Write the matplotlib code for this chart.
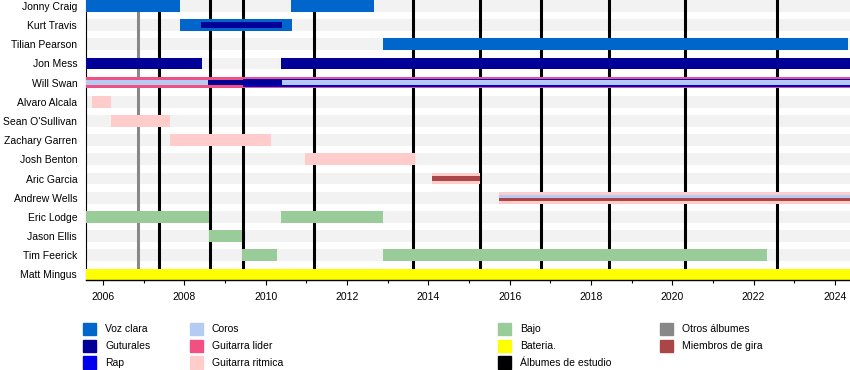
import matplotlib
matplotlib.use("Agg")
import matplotlib.pyplot as plt
from matplotlib.patches import Rectangle

plt.rcParams["font.family"] = ["Liberation Sans", "DejaVu Sans"]

# --- timeline data ---
PERIOD_START = 2005.57
PERIOD_END = 2024.37

members = ["Jonny Craig", "Kurt Travis", "Tilian Pearson", "Jon Mess", "Will Swan",
           "Alvaro Alcala", "Sean O'Sullivan", "Zachary Garren", "Josh Benton",
           "Aric Garcia", "Andrew Wells", "Eric Lodge", "Jason Ellis", "Tim Feerick",
           "Matt Mingus"]

# (member, from, till)
clean_vocals = [("Jonny Craig", PERIOD_START, 2007.89), ("Jonny Craig", 2010.62, 2012.66),
                ("Kurt Travis", 2007.89, 2010.65), ("Tilian Pearson", 2012.88, 2024.32)]
unclean_vocals = [("Jon Mess", PERIOD_START, 2008.43), ("Jon Mess", 2010.38, PERIOD_END)]
kurt_unclean = [("Kurt Travis", 2008.41, 2010.40)]
swan_unclean = [("Will Swan", 2008.59, 2010.39)]
rap = [("Will Swan", 2009.45, PERIOD_END)]
backing_vocals = [("Will Swan", PERIOD_START, 2008.59), ("Will Swan", 2010.39, PERIOD_END)]
lead_guitar = [("Will Swan", PERIOD_START, PERIOD_END)]
rhythm_guitar = [("Alvaro Alcala", 2005.73, 2006.19), ("Sean O'Sullivan", 2006.19, 2007.65),
                 ("Zachary Garren", 2007.65, 2010.12), ("Josh Benton", 2010.97, 2013.67),
                 ("Aric Garcia", 2014.10, 2015.27), ("Andrew Wells", 2015.74, PERIOD_END)]
touring_inner = [("Aric Garcia", 2014.10, 2015.27)]
touring_low = [("Andrew Wells", 2015.74, PERIOD_END)]
backing_high = [("Andrew Wells", 2015.74, PERIOD_END)]
bass = [("Eric Lodge", PERIOD_START, 2008.61), ("Eric Lodge", 2010.38, 2012.88),
        ("Jason Ellis", 2008.61, 2009.41), ("Tim Feerick", 2009.41, 2010.27),
        ("Tim Feerick", 2012.88, 2022.32)]
drums = [("Matt Mingus", PERIOD_START, PERIOD_END)]

studio_albums = [2007.37, 2008.63, 2009.44, 2011.18, 2013.62, 2015.28,
                 2016.77, 2018.44, 2020.31, 2022.57]
other_albums = [2006.87]

# legend labels and colours, column by column
legend_labels = ["Voz clara", "Guturales", "Rap",
                 "Coros", "Guitarra lider", "Guitarra ritmica",
                 "Bajo", "Bateria.", "Álbumes de estudio",
                 "Otros álbumes", "Miembros de gira"]
legend_colors = ["#0066CC", "#000099", "#0000EE",
                 "#B4CCF4", "#F24F82", "#FFCCCC",
                 "#9ACC9A", "#FFFF00", "#000000",
                 "#888888", "#AA4548"]
C = dict(zip(legend_labels, legend_colors))

# --- figure ---
fig = plt.figure(figsize=(8.5, 3.7), dpi=100)
ax = fig.add_axes([85.5 / 850, 1 - 280 / 370, 1 - 85.5 / 850, 280 / 370])

BAR_H = 0.61
row = {name: i for i, name in enumerate(members)}

# light grey background band for every row
for i in range(len(members)):
    ax.barh(i, PERIOD_END - PERIOD_START, left=PERIOD_START, height=BAR_H,
            color="#F2F2F2", zorder=1)

# album release lines
for yr in other_albums:
    ax.axvline(yr, color=C["Otros álbumes"], lw=2.2, zorder=2)
for yr in studio_albums:
    ax.axvline(yr, color="black", lw=2.2, zorder=2)


def draw(segments, color, height=BAR_H, offset=0.0, z=3):
    for name, a, b in segments:
        ax.barh(row[name] + offset, b - a, left=a, height=height, color=color,
                zorder=z, linewidth=0)


draw(clean_vocals, C["Voz clara"])
draw(unclean_vocals, C["Guturales"])
draw(lead_guitar, C["Guitarra lider"])
draw(rhythm_guitar, C["Guitarra ritmica"])
draw(bass, C["Bajo"])
draw(drums, C["Bateria."])
draw(rap, "#0000C8", height=0.42, z=4)
draw(backing_vocals, C["Coros"], height=0.26, z=5)
draw(kurt_unclean, C["Guturales"], height=0.31, z=5)
draw(swan_unclean, C["Guturales"], height=0.26, z=5)
draw(touring_inner, C["Miembros de gira"], height=0.22, z=5)
draw(backing_high, C["Coros"], height=0.18, offset=-0.04, z=5)
draw(touring_low, C["Miembros de gira"], height=0.14, offset=0.11, z=5)

ax.set_xlim(PERIOD_START, PERIOD_END)
ax.set_ylim(len(members) - 1 + 0.29, -0.305)
ax.set_yticks(range(len(members)))
ax.set_yticklabels(members, fontsize=7.5)
ax.tick_params(axis="y", length=0, pad=6)

ax.set_xticks(range(2006, 2025, 2))
ax.set_xticks(range(2007, 2025, 2), minor=True)
ax.tick_params(axis="x", which="major", length=3.5, width=0.8, labelsize=7.5, pad=5)
ax.tick_params(axis="x", which="minor", length=2.2, width=0.8)

for side in ["top", "right"]:
    ax.spines[side].set_visible(False)
ax.spines["bottom"].set_linewidth(1.0)
ax.spines["left"].set_linewidth(0.8)
ax.spines["bottom"].set_zorder(6)

# --- legend drawn in pixel positions ---
patch_x = [83, 190, 498, 660]
row_y = [322.5, 339.5, 356]
for k, (lab, col) in enumerate(zip(legend_labels, legend_colors)):
    c, r = divmod(k, 3)
    x0 = patch_x[c]
    y0 = row_y[r]
    fig.patches.append(Rectangle((x0 / 850, 1 - (y0 + 12.5) / 370), 13 / 850, 12.5 / 370,
                                 transform=fig.transFigure, color=col))
    fig.text((x0 + 22) / 850, 1 - (y0 + 6.5) / 370, lab, fontsize=7.5,
             va="center", ha="left")

fig.savefig("out.png", dpi=100)
